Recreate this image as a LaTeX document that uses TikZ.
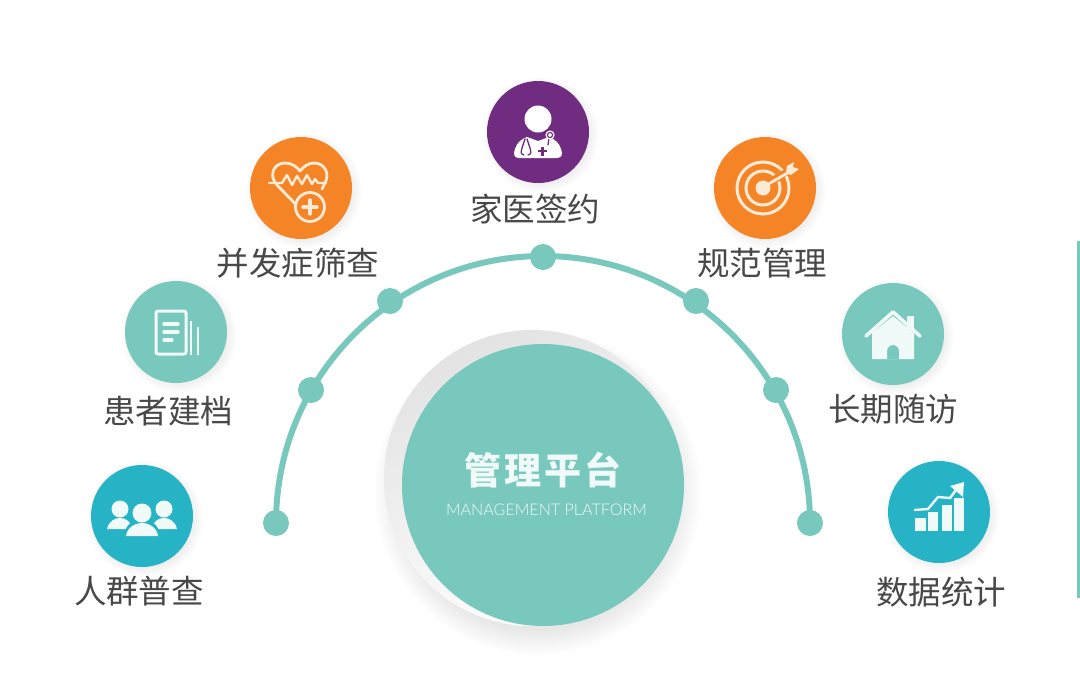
\documentclass[tikz,border=0pt]{standalone}
\usepackage{fontspec}
\newfontfamily\cjk{Noto Sans CJK SC}
\newfontfamily\latinlight{Lato Light}
\usetikzlibrary{arrows.meta}
\definecolor{teal1}{HTML}{78C8BE}
\definecolor{blue1}{HTML}{27B3C6}
\definecolor{orange1}{HTML}{F58426}
\definecolor{purple1}{HTML}{702C80}
\definecolor{cream}{HTML}{FBEBD6}
\definecolor{ice}{HTML}{F0FAF9}
\definecolor{txt}{HTML}{484848}
\tikzset{
  x=1pt,y=-1pt,
  badge/.style={circle,minimum size=102pt,inner sep=0pt,fill=#1},
  lab/.style={font=\cjk\fontsize{32.5}{34}\selectfont,text=txt,inner sep=0pt},
  dot/.style={circle,minimum size=26pt,inner sep=0pt,fill=teal1},
  ln/.style={line width=#1,line cap=round,line join=round},
}
\newcommand{\softdisc}[3]{%
  \foreach \k in {0,1,...,7}{\fill[black,opacity=.009] (#1+3,#2+3) circle[radius=#3+7-\k*1.3];}}
\begin{document}
\begin{tikzpicture}
\useasboundingbox (0,0) rectangle (1080,681);
\fill[white] (0,0) rectangle (1080,681);
% right edge bar
\fill[teal1] (1077,241) rectangle (1080,598);
% central shadow
\foreach \k in {0,1,...,11}{\fill[black,opacity=.006] (538,492) circle[radius=163-\k*2.2];}
\shade[left color=black!11,right color=white,shading angle=25] (532,478) circle[radius=148];
% arc
\coordinate (c0) at (276,523);
\draw[teal1,line width=6pt] (c0) arc[start angle=180,end angle=360,radius=267];
\node[dot] (d1) at (276,523) {};
\node[dot] (d2) at (311,390) {};
\node[dot] (d3) at (390,301) {};
\node[dot] (d4) at (543,257) {};
\node[dot] (d5) at (696,301) {};
\node[dot] (d6) at (776,390) {};
\node[dot] (d7) at (810,523) {};
% centre
\node[circle,minimum size=282pt,inner sep=0pt,fill=teal1] (hub) at (543,485) {};
\node[font=\cjk\bfseries\fontsize{37}{39}\selectfont,text=ice,inner sep=0pt] (hubt) at (543,470) {管\hspace{3pt}理\hspace{3pt}平\hspace{3pt}台};
\node[font=\latinlight\fontsize{16.1}{18}\selectfont,text=ice,inner sep=0pt] (hube) at (546.5,510) {MANAGEMENT PLATFORM};
% badges
\softdisc{301}{188}{51}\softdisc{538}{132}{51}\softdisc{765}{188}{51}
\softdisc{176}{332}{51}\softdisc{893}{334}{51}\softdisc{142}{516}{51}\softdisc{939}{512}{51}
\node[badge=orange1] (heart) at (301,188) {};
\node[badge=purple1] (doctor) at (538,132) {};
\node[badge=orange1] (target) at (765,188) {};
\node[badge=teal1] (file) at (176,332) {};
\node[badge=teal1] (house) at (893,334) {};
\node[badge=blue1] (people) at (142,516) {};
\node[badge=blue1] (chart) at (939,512) {};
% labels
\node[lab] (l1) at (298,263) {并发症筛查};
\node[lab] (l2) at (535,209) {家医签约};
\node[lab] (l3) at (762,263) {规范管理};
\node[lab] (l4) at (168,411) {患者建档};
\node[lab] (l5) at (893,409) {长期随访};
\node[lab] (l6) at (139,591) {人群普查};
\node[lab] (l7) at (941,592) {数据统计};
% heart icon
\begin{scope}[shift={(301,187)}]
\draw[cream,ln=2.8pt] (8,31) -- (-24,-2) .. controls (-33,-12) and (-27,-24) .. (-16,-24) .. controls (-9,-24) and (-4,-20) .. (-1,-16) .. controls (3,-21) and (8,-24) .. (13,-24) .. controls (24,-24) and (29,-13) .. (24,-4) -- (21,2);
\draw[cream,ln=2.4pt] (-32,-4) -- (-19,-4) -- (-14,-12) -- (-9,-2) -- (-4,-11) -- (1,-3) -- (6,-12) -- (11,-3) -- (14,-8) -- (17,-4) -- (25,-4);
\fill[orange1] (9,20) circle[radius=15];
\draw[cream,ln=2.8pt] (9,20) circle[radius=14.5];
\draw[cream,ln=3.4pt] (2,20) -- (16,20) (9,13) -- (9,27);
\end{scope}
% doctor icon
\begin{scope}[shift={(538,132)}]
\fill[white] (0,-13) circle[radius=13.5];
\fill[white] (-19,26) .. controls (-24,26) and (-25,22) .. (-23,17) .. controls (-21,10) and (-16,7) .. (-11,5) -- (0,9) -- (11,5) .. controls (16,7) and (21,10) .. (23,17) .. controls (25,22) and (24,26) .. (19,26) -- cycle;
\draw[purple1,ln=1.3pt] (-13,7) -- (-16,16) .. controls (-18,22) and (-16,23) .. (-14,23) (-11,7) -- (-8,16) .. controls (-6,22) and (-8,23) .. (-10,23);
\draw[purple1,ln=1.3pt] (11,6) -- (10,13);
\fill[white] (12,3) circle[radius=4.6];
\draw[purple1,line width=1.1pt] (12,3) circle[radius=2.6];
\draw[purple1,line width=2.4pt] (0,19) -- (9,19) (4.5,14.5) -- (4.5,23.5);
\end{scope}
% target icon
\begin{scope}[shift={(763,188)}]
\draw[cream,line width=3pt] (0,0) circle[radius=26];
\draw[cream,line width=3pt] (0,0) circle[radius=17];
\fill[cream] (0,0) circle[radius=7.5];
\fill[orange1] (3,-8) -- (22,-19) -- (26,-14) -- (9,-2) -- cycle;
\draw[cream,ln=2.8pt] (2,-2) -- (28,-17);
\fill[cream] (24,-22) -- (31,-26) -- (30,-21) -- (36,-19) -- (28,-13) -- (23,-15) -- cycle;
\end{scope}
% file icon
\begin{scope}[shift={(176,332)}]
\draw[ice,ln=3pt,rounded corners=2pt] (-20,-21) rectangle (10,22);
\draw[ice,ln=3.4pt] (-12,-8) -- (2,-8) (-12,0) -- (2,0) (-12,8) -- (-4,8);
\draw[ice,line width=2.4pt] (15,-11) -- (15,23) (22,-5) -- (22,23);
\end{scope}
% house icon
\begin{scope}[shift={(893,333)}]
\fill[ice] (14,-17) rectangle (21,-4);
\fill[ice,even odd rule] (-21,0) -- (0,-17) -- (21,0) -- (21,26) -- (-21,26) -- cycle
  (-6,26) -- (-6,18) arc[start angle=180,end angle=360,radius=6] -- (6,26) -- cycle;
\draw[teal1,line width=2pt] (-26,2) -- (0,-19) -- (26,2);
\draw[ice,ln=3.6pt] (-27,3) -- (0,-21) -- (27,3);
\end{scope}
% people icon
\begin{scope}[shift={(142,516)}]
\fill[ice] (-22,-7) circle[radius=8.5];
\fill[ice] (22,-7) circle[radius=8.5];
\fill[ice] (-35,13) .. controls (-33,4) and (-26,2) .. (-22,2) .. controls (-18,2) and (-11,4) .. (-10,13) -- cycle;
\fill[ice] (35,13) .. controls (33,4) and (26,2) .. (22,2) .. controls (18,2) and (11,4) .. (10,13) -- cycle;
\fill[blue1] (0,-3) circle[radius=11];
\fill[blue1] (-19,22) .. controls (-17,7) and (-7,3) .. (0,3) .. controls (7,3) and (17,7) .. (19,22) -- cycle;
\fill[ice] (0,-3) circle[radius=9.5];
\fill[ice] (-16,20) .. controls (-15,11) and (-6,7) .. (0,7) .. controls (6,7) and (15,11) .. (16,20) -- cycle;
\end{scope}
% chart icon
\begin{scope}[shift={(939,512)}]
\fill[ice] (-24,6) rectangle (-13.5,19);
\fill[ice] (-11,0) rectangle (-0.7,19);
\fill[ice] (2.7,-7) rectangle (13,19);
\fill[ice] (15,-14) rectangle (25,19);
\draw[blue1,line width=5pt] (-24,-2) -- (-11,-3) -- (-1,-15) -- (11,-14) -- (21,-27);
\draw[ice,line width=2.4pt] (-25,-2) -- (-11,-3) -- (-1,-15) -- (11,-14) -- (20,-26);
\fill[ice] (25,-30) -- (11,-26) -- (24,-15) -- cycle;
\end{scope}
\end{tikzpicture}
\end{document}
